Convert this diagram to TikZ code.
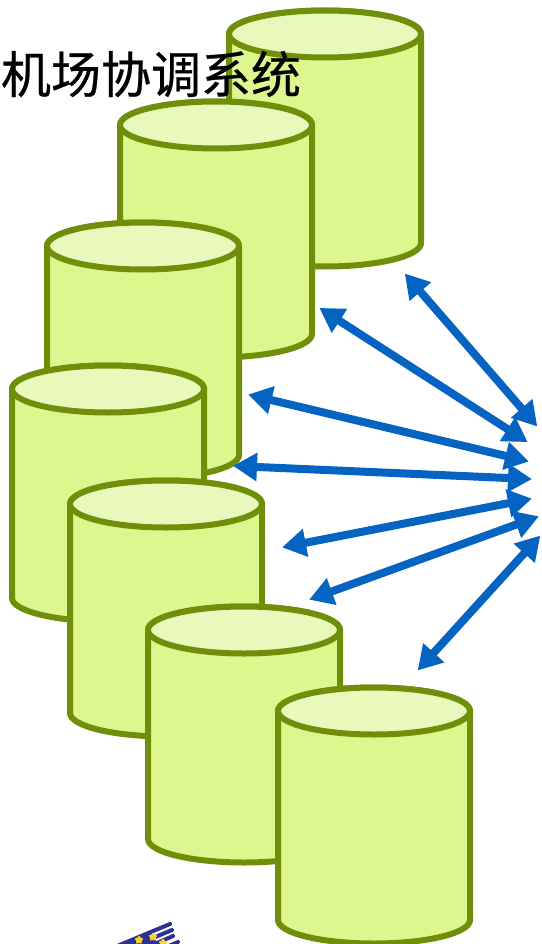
\documentclass[tikz,border=0pt]{standalone}
\usepackage{fontspec}
\usetikzlibrary{arrows.meta,shapes.geometric}
\newfontfamily\cjk[FakeBold=0.6]{Noto Sans CJK SC}
\definecolor{drumside}{HTML}{DDF78E}
\definecolor{drumtop}{HTML}{E9F9BC}
\definecolor{drumline}{HTML}{6F8F0A}
\definecolor{linkblue}{HTML}{0563C1}
\definecolor{logoblue}{HTML}{2E3192}
\definecolor{logostar}{HTML}{F5D327}
\tikzset{
  drum/.style={draw=drumline,line width=6pt,fill=drumside,line join=round},
  drumlid/.style={draw=drumline,line width=6pt,fill=drumtop},
  link/.style={draw=linkblue,line width=8pt,shorten >=-2pt,shorten <=-2pt,{Triangle[length=24pt,width=27pt]}-{Triangle[length=24pt,width=27pt]}},
  logoline/.style={draw=logoblue,line width=4pt,line cap=round},
  logostar/.style={star,star points=5,fill=logostar,inner sep=0pt,minimum size=9pt}
}
\begin{document}
\begin{tikzpicture}[x=1pt,y=1pt]
\useasboundingbox (0,-944) rectangle (541,0);
\clip (0,-944) rectangle (541,0);
\foreach \x/\y in {229/34,120/125,47/246,12/389,70/504,148/630,278/711} % left side, lid centre
{
\draw[drum,shift={(\x,-\y)}] (0,0) -- (0,-209) arc[start angle=180,end angle=360,x radius=96pt,y radius=23.5pt] -- (192,0) arc[start angle=0,end angle=180,x radius=96pt,y radius=23.5pt] -- cycle;
\draw[drumlid,shift={(\x,-\y)}] (96,0) ellipse[x radius=96pt,y radius=23.5pt];
}
\node[inner sep=0pt,font=\cjk\fontsize{50}{50}\selectfont] (title) at (151,-74) {机场协调系统};
% ends of the arrows
\foreach \i/\ax/\ay/\bx/\by in {1/406/275/536/425,2/321/309/526/441,3/250/395/527/461,4/235/466/530/479,5/284/547/530/499,6/311/599/537/517,7/419/669/539/537}
{
\coordinate (drum\i) at (\ax,-\ay);
\coordinate (hub\i) at (\bx,-\by);
}
\foreach \i in {1,...,7}
\draw[link] (drum\i) -- (hub\i);
% logo at the bottom edge
\foreach \ax/\ay/\bx/\by in {170/924/110/949,172/930/122/951,173/936/134/953,178/942/150/954}
\draw[logoline] (\ax,-\ay) -- (\bx,-\by);
\fill[logoblue] (120,-946) -- (150,-932) -- (160,-946) -- cycle;
\node[logostar] (star1) at (139,-940) {};
\node[logostar] (star2) at (153,-937) {};
\node[logostar] (star3) at (163,-943) {};
\end{tikzpicture}
\end{document}
